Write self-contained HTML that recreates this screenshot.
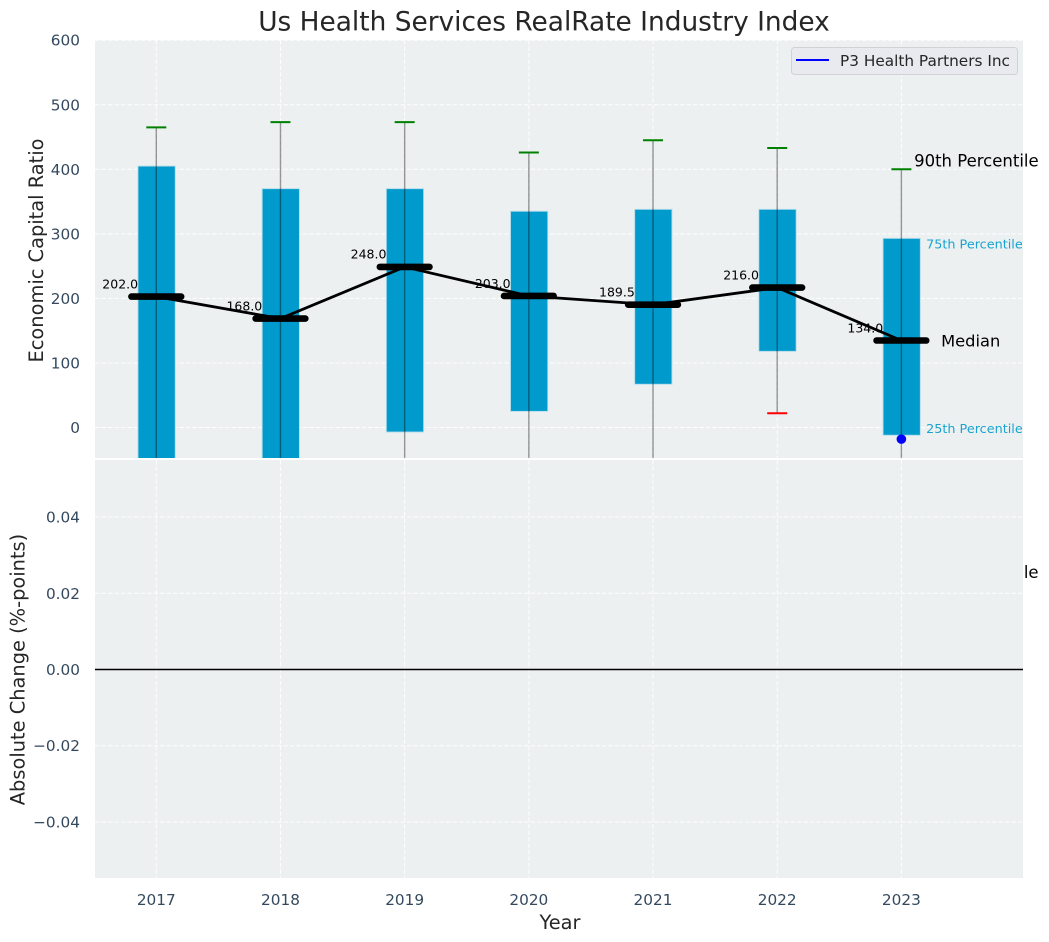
<!DOCTYPE html>
<html>
<head>
<meta charset="utf-8">
<title>Us Health Services RealRate Industry Index</title>
<style>
html,body{margin:0;padding:0;background:#fff;}
svg{display:block;font-family:"DejaVu Sans","Liberation Sans",sans-serif;}
</style>
</head>
<body>
<svg id="chart" xmlns="http://www.w3.org/2000/svg" width="1049" height="942" viewBox="0 0 1049 942">
  <defs>
    <clipPath id="top-clip"><rect x="95" y="40" width="928" height="418"/></clipPath>
  </defs>
  <rect x="0" y="0" width="1049" height="942" fill="#ffffff"/>
  <text x="544" y="30.5" text-anchor="middle" font-size="26.4px" fill="#262626">Us Health Services RealRate Industry Index</text>
  <rect x="95" y="40" width="928" height="418" fill="#ecf0f1"/>
  <g id="top-layer"></g>
  <rect x="95" y="460" width="928" height="418" fill="#ecf0f1"/>
  <g id="bottom-layer"></g>
  <g>
    <rect x="791.5" y="47.5" width="226" height="27" rx="3" fill="#e9eaef" stroke="#d2d2d4" stroke-width="1"/>
    <line x1="796" x2="829" y1="60" y2="60" stroke="#0000ff" stroke-width="2.1"/>
    <text x="840" y="66" font-size="15.3px" fill="#262626">P3 Health Partners Inc</text>
  </g>
  <text x="560" y="929" text-anchor="middle" font-size="19.4px" fill="#262626">Year</text>
  <text transform="translate(43,250.5) rotate(-90)" text-anchor="middle" font-size="19.4px" fill="#262626">Economic Capital Ratio</text>
  <text transform="translate(24.5,669.5) rotate(-90)" text-anchor="middle" font-size="19.4px" fill="#262626">Absolute Change (%-points)</text>
</svg>
<script>
const years = [2017, 2018, 2019, 2020, 2021, 2022, 2023];
const p90 = [465, 473, 473, 426, 445, 433, 400];
const p75 = [405, 370, 370, 335, 338, 338, 293];
const medians = [202, 168, 248, 203, 189.5, 216, 134];
const p25 = [-60, -55, -7, 25, 67, 118, -12];
const p10 = [-110, -110, -80, -75, -60, 22, -70];
const companyYears = [2023];
const companyValues = [-18];
const changeValues = [];
const topTicks = [0, 100, 200, 300, 400, 500, 600];
const bottomTicks = [-0.04, -0.02, 0, 0.02, 0.04];

const NS = 'http://www.w3.org/2000/svg';
const topLayer = document.getElementById('top-layer');
const bottomLayer = document.getElementById('bottom-layer');

function xPos(year) { return 156.3 + (year - 2017) * 124.18; }
function yTop(v) { return 427.5 - v * 0.6455; }
function yBottom(v) { return 669.5 - v * 3812; }

function make(parent, tag, attrs, text) {
  const el = document.createElementNS(NS, tag);
  for (const k in attrs) el.setAttribute(k, attrs[k]);
  if (text !== undefined) el.textContent = text;
  parent.appendChild(el);
  return el;
}

const dash = '4.5 2';
const tickColor = '#34495e';
const bandColor = '#1aa3d1';

const topClip = make(topLayer, 'g', { 'clip-path': 'url(#top-clip)' });



/* grid + ticks, top panel */
topTicks.forEach(function (t) {
  const grid = make(topClip, 'line', { x1: 95, x2: 1023, y1: yTop(t), y2: yTop(t), stroke: '#ffffff', 'stroke-width': 1, 'stroke-dasharray': dash, opacity: 0.9 });
  
  
  const lab = make(topLayer, 'text', { x: 80, y: yTop(t) + 5.5, 'text-anchor': 'end', 'font-size': '15.3px', fill: tickColor }, String(t));
  
  
});
years.forEach(function (yr) {
  const grid = make(topClip, 'line', { x1: xPos(yr), x2: xPos(yr), y1: 40, y2: 458, stroke: '#ffffff', 'stroke-width': 1, 'stroke-dasharray': dash, opacity: 0.9 });
  
  
});

/* interquartile bars */
years.forEach(function (yr, i) {
  const half = 0.15 * 124.18;
  const bar = make(topClip, 'rect', { x: xPos(yr) - half + 0.3, y: yTop(p75[i]), width: half * 2, height: yTop(p25[i]) - yTop(p75[i]), fill: '#009acd', stroke: '#b5dcea', 'stroke-width': 0.9 });
  
  
});

/* whiskers and caps */
years.forEach(function (yr, i) {
  const w = make(topClip, 'line', { x1: xPos(yr), x2: xPos(yr), y1: yTop(p90[i]), y2: yTop(p10[i]), stroke: '#000000', 'stroke-opacity': 0.4, 'stroke-width': 1.4 });
  
  
  const hi = make(topClip, 'line', { x1: xPos(yr) - 10, x2: xPos(yr) + 10, y1: yTop(p90[i]), y2: yTop(p90[i]), stroke: '#008000', 'stroke-width': 2 });
  
  
  const lo = make(topClip, 'line', { x1: xPos(yr) - 10, x2: xPos(yr) + 10, y1: yTop(p10[i]), y2: yTop(p10[i]), stroke: '#ff0000', 'stroke-width': 2 });
  
  
});

/* median labels */
years.forEach(function (yr, i) {
  const lab = make(topClip, 'text', { x: xPos(yr) - 18.2, y: yTop(medians[i]) - 8.7, 'text-anchor': 'end', 'font-size': '12.5px', fill: '#000000' }, medians[i].toFixed(1));
  
  
});

/* median trend line */
const trend = make(topClip, 'polyline', { points: years.map(function (yr, i) { return xPos(yr) + ',' + (yTop(medians[i]) - 0.5); }).join(' '), fill: 'none', stroke: '#000000', 'stroke-width': 2.8 });



/* median bars */
years.forEach(function (yr, i) {
  const half = 0.2 * 124.18;
  const m = make(topClip, 'line', { x1: xPos(yr) - half, x2: xPos(yr) + half, y1: yTop(medians[i]) - 0.5, y2: yTop(medians[i]) - 0.5, stroke: '#000000', 'stroke-width': 6.6, 'stroke-linecap': 'round' });
  
  
});

/* company point */
companyYears.forEach(function (yr, i) {
  const dot = make(topClip, 'circle', { cx: xPos(yr), cy: yTop(companyValues[i]), r: 4.8, fill: '#0000ff' });
  
  
});

/* percentile annotations for the last year */
const lastIdx = years.length - 1;
const lastX = xPos(years[lastIdx]);
const a90 = make(topLayer, 'text', { x: lastX + 12.7, y: yTop(p90[lastIdx]) - 3, 'font-size': '16.5px', fill: '#000000' }, '90th Percentile');


const a75 = make(topLayer, 'text', { x: lastX + 24.7, y: yTop(p75[lastIdx]) + 10, 'font-size': '12.8px', fill: bandColor }, '75th Percentile');


const aMed = make(topLayer, 'text', { x: lastX + 39.7, y: yTop(medians[lastIdx]) + 5.5, 'font-size': '16.3px', fill: '#000000' }, 'Median');


const a25 = make(topLayer, 'text', { x: lastX + 24.7, y: yTop(p25[lastIdx]) - 2.3, 'font-size': '12.8px', fill: bandColor }, '25th Percentile');



/* annotation that sits under the lower panel, only its tail shows past the axes */
const tail = make(topLayer, 'text', { x: 914, y: 578, 'font-size': '16.5px', fill: '#000000' }, '10th Percentile');



/* bottom panel */
bottomTicks.forEach(function (t) {
  const grid = make(bottomLayer, 'line', { x1: 95, x2: 1023, y1: yBottom(t), y2: yBottom(t), stroke: '#ffffff', 'stroke-width': 1, 'stroke-dasharray': dash, opacity: 0.9 });
  
  
  const str = (t < 0 ? '\u2212' : '') + Math.abs(t).toFixed(2);
  const lab = make(bottomLayer, 'text', { x: 80, y: yBottom(t) + 5.5, 'text-anchor': 'end', 'font-size': '15.3px', fill: tickColor }, str);
  
  
});
years.forEach(function (yr) {
  const grid = make(bottomLayer, 'line', { x1: xPos(yr), x2: xPos(yr), y1: 460, y2: 878, stroke: '#ffffff', 'stroke-width': 1, 'stroke-dasharray': dash, opacity: 0.9 });
  
  
  const lab = make(bottomLayer, 'text', { x: xPos(yr), y: 905, 'text-anchor': 'middle', 'font-size': '15.3px', fill: tickColor }, String(yr));
  
  
});
const zero = make(bottomLayer, 'line', { x1: 95, x2: 1023, y1: yBottom(0), y2: yBottom(0), stroke: '#000000', 'stroke-width': 1.4 });


changeValues.forEach(function (v, i) {
  const pt = make(bottomLayer, 'circle', { cx: xPos(years[i]), cy: yBottom(v), r: 4, fill: '#0000ff' });
  
  
});
</script>
</body>
</html>
